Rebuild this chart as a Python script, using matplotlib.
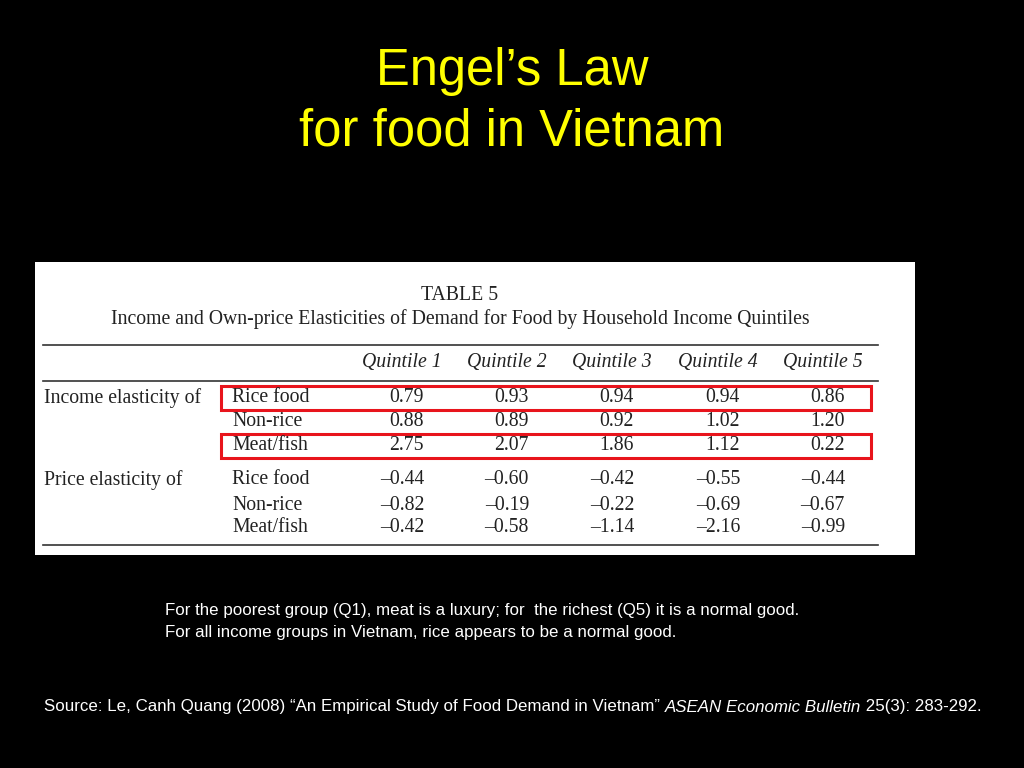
import matplotlib
matplotlib.use("Agg")
import matplotlib.pyplot as plt
from matplotlib.patches import Rectangle

quintiles = ["Quintile 1", "Quintile 2", "Quintile 3", "Quintile 4", "Quintile 5"]
goods = ["Rice food", "Non-rice", "Meat/fish"]
income_elast = [[0.79, 0.93, 0.94, 0.94, 0.86],
                [0.88, 0.89, 0.92, 1.02, 1.20],
                [2.75, 2.07, 1.86, 1.12, 0.22]]
price_elast = [[-0.44, -0.60, -0.42, -0.55, -0.44],
               [-0.82, -0.19, -0.22, -0.69, -0.67],
               [-0.42, -0.58, -1.14, -2.16, -0.99]]
highlight_rows = [0, 2]

W, H = 1024, 768
fig = plt.figure(figsize=(W/100, H/100), dpi=100, facecolor="black")
ax = fig.add_axes([0, 0, 1, 1])
ax.set_xlim(0, W); ax.set_ylim(H, 0); ax.axis("off")
ax.set_facecolor("black")

def fmt(v):
    return ("\u2013%.2f" % -v) if v < 0 else "%.2f" % v

ax.text(512, 72, "Engel\u2019s Law", color="#ffff00", fontsize=36.5, ha="center", va="center", family="Liberation Sans")
ax.text(512, 132, "for food in Vietnam", color="#ffff00", fontsize=36.5, ha="center", va="center", family="Liberation Sans")

ax.add_patch(Rectangle((35, 262), 880, 293, facecolor="white", edgecolor="none"))
serif = dict(family="Liberation Serif", color="#222222", fontsize=14.2)
ax.text(460, 296, "TABLE 5", ha="center", va="center", **serif)
ax.text(460, 319, "Income and Own-price Elasticities of Demand for Food by Household Income Quintiles", ha="center", va="center", **serif)
for y in (345, 381, 545):
    ax.plot([43, 878], [y, y], color="#333333", lw=1.2)
xs = [402, 507, 612, 718, 823]
for x, q in zip(xs, quintiles):
    ax.text(x, 363, q, ha="center", va="center", style="italic", **serif)
rows_y = [398, 422, 446, 480, 505, 528]
ax.text(44, 398, "Income elasticity of", ha="left", va="center", **serif)
ax.text(44, 480, "Price elasticity of", ha="left", va="center", **serif)
for blk, data in enumerate([income_elast, price_elast]):
    for i, g in enumerate(goods):
        y = rows_y[blk*3 + i]
        ax.text(232, y, g, ha="left", va="center", **serif)
        for x, v in zip(xs, data[i]):
            ax.text(x + 22, y, fmt(v), ha="right", va="center", **serif)
for r in highlight_rows:
    y = rows_y[r]
    ax.add_patch(Rectangle((221, y - 12), 650, 24, facecolor="none", edgecolor="#e8141c", lw=2.2))

sans = dict(family="Liberation Sans", color="white", fontsize=12.2)
ax.text(165, 611, "For the poorest group (Q1), meat is a luxury; for  the richest (Q5) it is a normal good.", ha="left", va="center", **sans)
ax.text(165, 632, "For all income groups in Vietnam, rice appears to be a normal good.", ha="left", va="center", **sans)

fig.canvas.draw()
r = fig.canvas.get_renderer()
x = 44
for s, st in [("Source: Le, Canh Quang (2008) \u201cAn Empirical Study of Food Demand in Vietnam\u201d ", "normal"),
              ("ASEAN Economic Bulletin", "italic"), (" 25(3): 283-292.", "normal")]:
    t = ax.text(x, 707, s, ha="left", va="center", style=st, **sans)
    bb = t.get_window_extent(r)
    x += bb.width

fig.savefig("out.png", dpi=100, facecolor="black")
